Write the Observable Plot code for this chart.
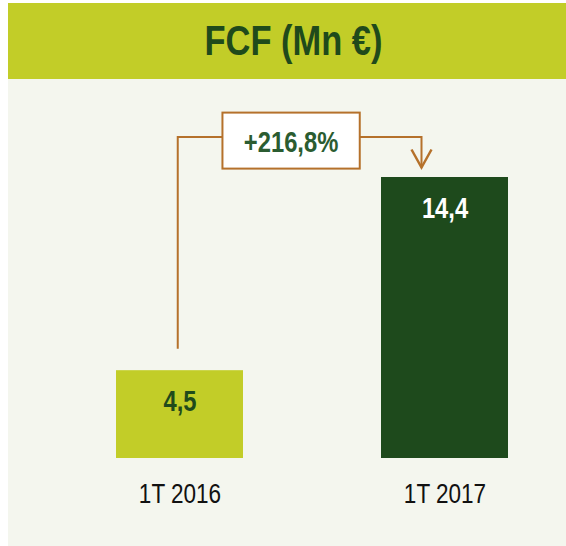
<!DOCTYPE html>
<html>
<head>
<meta charset="utf-8">
<script src="https://cdn.jsdelivr.net/npm/d3@7"></script>
<script src="https://cdn.jsdelivr.net/npm/@observablehq/plot@0.6"></script>
<style>
  html, body { margin: 0; padding: 0; background: #ffffff; }
  #wrap { position: absolute; left: 8px; top: 3px; width: 558px; }
  #title {
    height: 76px; background: #c2cd28; color: #1f4a1b;
    font-family: "Liberation Sans", Arial, sans-serif;
    font-weight: bold; font-size: 42px; line-height: 76px;
    text-align: center; padding-left: 13px; box-sizing: border-box;
  }
  #title span { display: inline-block; transform: scaleX(0.82); transform-origin: center; }
  #chart svg { display: block; background: #f4f6ee; }
</style>
</head>
<body>
<div id="wrap">
  <div id="title"><span></span></div>
  <div id="chart"></div>
</div>
<script>
const title = "FCF (Mn €)";
const categories = ["1T 2016", "1T 2017"];
const values = [4.5, 14.4];
const valueLabels = ["4,5", "14,4"];
const barColors = ["#c2cd28", "#1e4a1c"];
const labelColors = ["#1f4a1b", "#ffffff"];
const changeLabel = "+216,8%";

document.querySelector("#title span").textContent = title;

const data = categories.map((c, i) => ({cat: c, value: values[i], label: valueLabels[i], fill: barColors[i], color: labelColors[i]}));

const font = '"Liberation Sans", Arial, sans-serif';
const brown = "#b5712b";

function connector(index, scales) {
  const x = scales.x, y = scales.y;
  const bw = typeof x.bandwidth === "function" ? x.bandwidth() : (x.bandwidth || 0);
  const c0 = x(categories[0]) + bw / 2;
  const c1 = x(categories[1]) + bw / 2;
  const xa = c0 - 1.75;          // vertical line from first bar
  const xb = c1 - 23;            // arrow into second bar
  const yStart = y(values[0]) - 21.5;
  const yLevel = y(values[1]) - 40;
  const yTip = y(values[1]) - 9.5;
  const g = d3.create("svg:g");
  g.append("path")
    .attr("d", `M${xa},${yStart}V${yLevel}H${xb}V${yTip}`)
    .attr("fill", "none").attr("stroke", brown).attr("stroke-width", 2);
  g.append("path")
    .attr("d", `M${xb - 10},${yTip - 18}L${xb},${yTip}L${xb + 10},${yTip - 18}`)
    .attr("fill", "none").attr("stroke", brown).attr("stroke-width", 2.5);
  const bx = xa + 113.3, by = yLevel + 3.6;
  g.append("rect")
    .attr("x", bx - 68.6).attr("y", by - 28).attr("width", 137.3).attr("height", 56)
    .attr("fill", "#ffffff").attr("stroke", brown).attr("stroke-width", 2);
  g.append("text")
    .attr("x", bx).attr("y", by + 11)
    .attr("text-anchor", "middle")
    .attr("font-family", font).attr("font-weight", "bold").attr("font-size", 29)
    .attr("fill", "#2b5c31")
    .text(changeLabel);
  return g.node();
}

const chart = Plot.plot({
  width: 558,
  height: 467,
  marginLeft: 108,
  marginRight: 57,
  marginTop: 98,
  marginBottom: 88,
  style: {background: "#f4f6ee", fontFamily: font},
  x: {domain: categories, paddingInner: 0.52, paddingOuter: 0, label: null},
  y: {domain: [0, 14.4], axis: null},
  marks: [
    Plot.barY(data, {x: "cat", y: "value", fill: "fill"}),
    Plot.text(data, {x: "cat", y: "value", text: "label", fill: "color", dy: 31,
      fontSize: 29, fontWeight: "bold", fontFamily: font}),
    Plot.axisX({tickSize: 0, tickPadding: 25, fontSize: 27.5, fill: "#111111", label: null, fontFamily: font}),
    connector
  ]
});
document.getElementById("chart").appendChild(chart);

// condense all text horizontally around its own centre (Arial Narrow look)
d3.select(chart).selectAll("text").each(function() {
  const b = this.getBBox();
  const cx = b.x + b.width / 2;
  const t = this.getAttribute("transform") || "";
  this.setAttribute("transform", `${t} translate(${cx},0) scale(0.82,1) translate(${-cx},0)`.trim());
});
</script>
</body>
</html>
